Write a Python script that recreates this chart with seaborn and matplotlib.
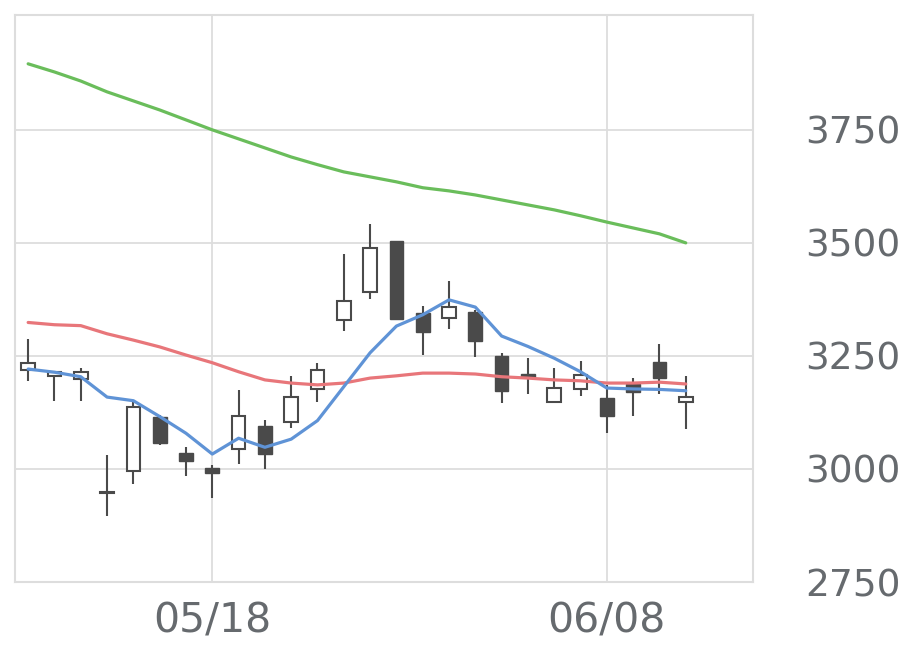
import numpy as np
import pandas as pd
import matplotlib
matplotlib.use("Agg")
import matplotlib.pyplot as plt
import seaborn as sns

# trading days shown on the chart
dates = ["05/07", "05/08", "05/11", "05/12", "05/13", "05/14", "05/15",
         "05/18", "05/19", "05/20", "05/21", "05/22", "05/25", "05/26",
         "05/27", "05/28", "05/29", "06/01", "06/02", "06/03", "06/04",
         "06/05", "06/08", "06/09", "06/10", "06/11"]
tick_dates = ["05/18", "06/08"]

open_ = [3218, 3206, 3199, 2946, 2996, 3116, 3035, 3002, 3044, 3094, 3103, 3177, 3330,
         3392, 3504, 3344, 3333, 3348, 3250, 3210, 3148, 3177, 3156, 3187, 3237, 3148]
close = [3234, 3215, 3215, 2948, 3138, 3058, 3018, 2992, 3118, 3033, 3160, 3219, 3371,
         3488, 3332, 3302, 3359, 3284, 3173, 3204, 3179, 3208, 3117, 3170, 3202, 3160]
high = [3287, 3215, 3223, 3031, 3150, 3120, 3049, 3009, 3175, 3108, 3206, 3235, 3476,
        3542, 3504, 3361, 3416, 3352, 3257, 3246, 3223, 3239, 3186, 3201, 3276, 3206]
low = [3195, 3150, 3150, 2896, 2966, 3053, 2985, 2936, 3010, 2999, 3090, 3148, 3306,
       3376, 3332, 3251, 3310, 3247, 3147, 3165, 3148, 3162, 3080, 3117, 3165, 3088]

ma5 = [3221, 3214, 3204, 3159, 3151, 3116, 3079, 3033, 3068, 3048, 3066, 3107, 3182,
       3257, 3316, 3341, 3374, 3358, 3294, 3271, 3245, 3215, 3179, 3177, 3176, 3173]
ma25 = [3324, 3319, 3317, 3299, 3285, 3270, 3252, 3235, 3215, 3197, 3190, 3186, 3190,
        3201, 3206, 3212, 3212, 3210, 3204, 3201, 3197, 3195, 3190, 3190, 3192, 3188]
ma75 = [3896, 3878, 3858, 3834, 3814, 3794, 3772, 3750, 3730, 3710, 3690, 3673, 3657,
        3646, 3635, 3622, 3615, 3606, 3595, 3584, 3573, 3560, 3546, 3533, 3520, 3500]

yticks = [2750, 3000, 3250, 3500, 3750]

grid_color = "#dddddd"
text_color = "#666a6e"
candle_color = "#4a4a4a"

sns.set_style("whitegrid")
plt.rcParams["font.family"] = ["DejaVu Sans"]

fig = plt.figure(figsize=(9.2, 6.69), dpi=100)
ax = fig.add_axes([0.0163, 0.130, 0.802, 0.8476])

x = np.arange(len(dates))
df = pd.DataFrame({"x": x, "ma5": ma5, "ma25": ma25, "ma75": ma75})

# wicks and bodies
ax.vlines(x, low, high, color=candle_color, linewidth=1.5, zorder=2)
up = np.array(close) >= np.array(open_)
bottoms = np.minimum(open_, close)
heights = np.maximum(np.abs(np.array(close) - np.array(open_)), 1.5)
ax.bar(x[up], heights[up], bottom=bottoms[up], width=0.52,
       color="white", edgecolor=candle_color, linewidth=1.5, zorder=3)
ax.bar(x[~up], heights[~up], bottom=bottoms[~up], width=0.52,
       color=candle_color, edgecolor=candle_color, linewidth=1.0, zorder=3)

# moving averages
sns.lineplot(data=df, x="x", y="ma75", color="#6abd5b", linewidth=2.3, ax=ax, zorder=4)
sns.lineplot(data=df, x="x", y="ma25", color="#e8767a", linewidth=2.3, ax=ax, zorder=4)
sns.lineplot(data=df, x="x", y="ma5", color="#5f93d6", linewidth=2.3, ax=ax, zorder=4)

ax.set_xlim(-0.5, 27.55)
ax.set_ylim(2750, 4004)
ax.set_xticks([dates.index(d) for d in tick_dates])
ax.set_xticklabels(tick_dates)
ax.set_yticks(yticks)
ax.set_yticklabels([str(v) for v in yticks])
ax.yaxis.tick_right()
ax.set_xlabel("")
ax.set_ylabel("")

ax.grid(True, color=grid_color, linewidth=1.3)
ax.set_axisbelow(True)
for sp in ax.spines.values():
    sp.set_visible(True)
    sp.set_color(grid_color)
    sp.set_linewidth(1.5)

ax.tick_params(axis="y", length=0, pad=38, labelsize=27, labelcolor=text_color)
ax.tick_params(axis="x", length=4, width=1, color="#d5deea", pad=10,
               labelsize=29.5, labelcolor=text_color)
for lbl in ax.get_yticklabels():
    lbl.set_y(lbl.get_position()[1])
    lbl.set_verticalalignment("center_baseline")

fig.savefig("out.png", dpi=100)
